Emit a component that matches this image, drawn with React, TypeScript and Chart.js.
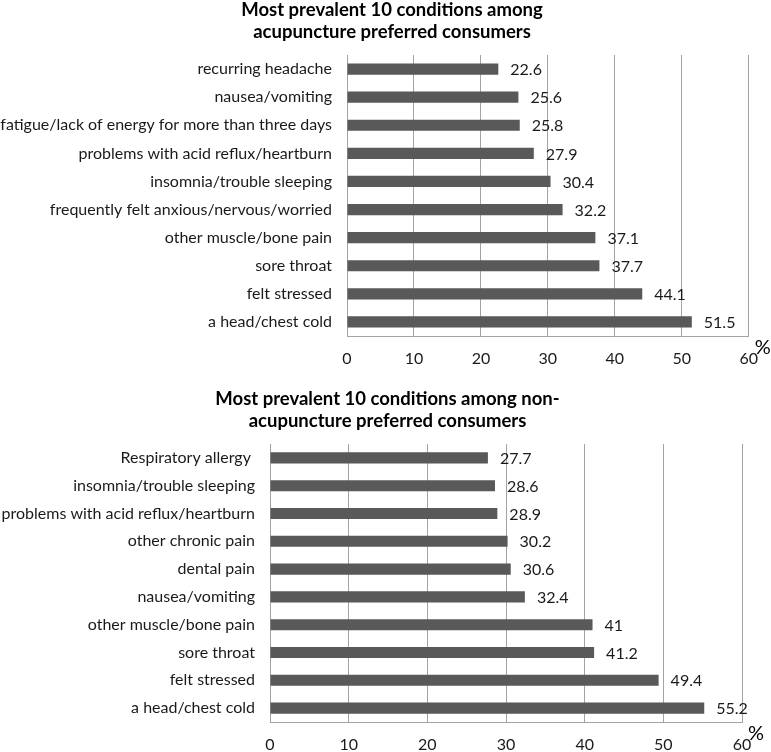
import React, { useEffect, useRef } from "react";
import { Chart, registerables } from "chart.js";

Chart.register(...registerables);

const topTitle = ["Most prevalent 10 conditions among", "acupuncture preferred consumers"];
const topCategories = [
  "recurring headache",
  "nausea/vomiting",
  "fatigue/lack of energy for more than three days",
  "problems with acid reflux/heartburn",
  "insomnia/trouble sleeping",
  "frequently felt anxious/nervous/worried",
  "other muscle/bone pain",
  "sore throat",
  "felt stressed",
  "a head/chest cold",
];
const topValues = [22.6, 25.6, 25.8, 27.9, 30.4, 32.2, 37.1, 37.7, 44.1, 51.5];

const bottomTitle = ["Most prevalent 10 conditions among non-", "acupuncture preferred consumers"];
const bottomCategories = [
  "Respiratory allergy ",
  "insomnia/trouble sleeping",
  "problems with acid reflux/heartburn",
  "other chronic pain",
  "dental pain",
  "nausea/vomiting",
  "other muscle/bone pain",
  "sore throat",
  "felt stressed",
  "a head/chest cold",
];
const bottomValues = [27.7, 28.6, 28.9, 30.2, 30.6, 32.4, 41, 41.2, 49.4, 55.2];

const axisMin = 0;
const axisMax = 60;
const axisStep = 10;
const unitLabel = "%";

const FONT = "Lato";
const BAR_COLOR = "#595959";
const GRID_COLOR = "#a3a3a3";
const TEXT_COLOR = "#1a1a1a";

type Cfg = {
  title: string[];
  titleCenter: number;
  titleBaselines: number[];
  categories: string[];
  values: number[];
  yWidth: number;
  xHeight: number;
  padding: { left: number; right: number; top: number; bottom: number };
};

function makeChart(canvas: HTMLCanvasElement, cfg: Cfg) {
  const overlayPlugin = {
    id: "overlayText",
    afterDraw(chart: any) {
      const ctx = chart.ctx;
      const meta = chart.getDatasetMeta(0);
      ctx.save();
      ctx.font = `16px ${FONT}`;
      ctx.fillStyle = TEXT_COLOR;
      ctx.textAlign = "left";
      ctx.textBaseline = "middle";
      meta.data.forEach((bar: any, i: number) => {
        ctx.fillText(String(cfg.values[i]), bar.x + 12, bar.y + 1);
      });
      const area = chart.chartArea;
      ctx.font = `20px ${FONT}`;
      ctx.fillStyle = "#000";
      ctx.fillText(unitLabel, area.right + 6, area.bottom + 12);

      ctx.font = `bold 18.5px ${FONT}`;
      ctx.textAlign = "center";
      ctx.textBaseline = "alphabetic";
      cfg.title.forEach((line, i) => {
        ctx.fillText(line, cfg.titleCenter, cfg.titleBaselines[i]);
      });
      ctx.restore();
    },
  };

  return new Chart(canvas, {
    type: "bar",
    data: {
      labels: cfg.categories,
      datasets: [
        {
          data: cfg.values,
          backgroundColor: BAR_COLOR,
          borderWidth: 0,
          barPercentage: 0.4,
          categoryPercentage: 1,
        },
      ],
    },
    options: {
      indexAxis: "y",
      responsive: false,
      animation: false,
      devicePixelRatio: 1,
      layout: { padding: cfg.padding },
      plugins: {
        legend: { display: false },
        tooltip: { enabled: false },
        title: { display: false },
      },
      scales: {
        x: {
          min: axisMin,
          max: axisMax,
          ticks: {
            stepSize: axisStep,
            color: TEXT_COLOR,
            font: { family: FONT, size: 16 },
            padding: 13,
          },
          grid: { display: true, color: GRID_COLOR, drawTicks: false, lineWidth: 1 },
          border: { display: true, color: GRID_COLOR },
          afterFit(scale: any) {
            scale.height = cfg.xHeight;
          },
        },
        y: {
          ticks: {
            color: TEXT_COLOR,
            font: { family: FONT, size: 16 },
            padding: 15,
            autoSkip: false,
          },
          grid: { display: false, drawTicks: false },
          border: { display: true, color: GRID_COLOR },
          afterFit(scale: any) {
            scale.width = cfg.yWidth;
          },
        },
      },
    } as any,
    plugins: [overlayPlugin],
  });
}

function BarPanel({ cfg, width, height }: { cfg: Cfg; width: number; height: number }) {
  const ref = useRef<HTMLCanvasElement | null>(null);
  useEffect(() => {
    if (!ref.current) return;
    const chart = makeChart(ref.current, cfg);
    return () => chart.destroy();
  }, []);
  return <canvas ref={ref} width={width} height={height} style={{ display: "block", width, height }} />;
}

export default function App() {
  const topCfg: Cfg = {
    title: topTitle,
    titleCenter: 392,
    titleBaselines: [16, 37.5],
    categories: topCategories,
    values: topValues,
    yWidth: 347,
    xHeight: 39,
    padding: { left: 0, right: 20, top: 55, bottom: 0 },
  };
  const bottomCfg: Cfg = {
    title: bottomTitle,
    titleCenter: 387.5,
    titleBaselines: [30, 52],
    categories: bottomCategories,
    values: bottomValues,
    yWidth: 270,
    xHeight: 30,
    padding: { left: 0, right: 29, top: 69, bottom: 0 },
  };
  return (
    <div style={{ position: "absolute", left: 0, top: 0, width: 771, height: 752, background: "#fff" }}>
      <BarPanel cfg={topCfg} width={771} height={375} />
      <BarPanel cfg={bottomCfg} width={771} height={377} />
    </div>
  );
}
